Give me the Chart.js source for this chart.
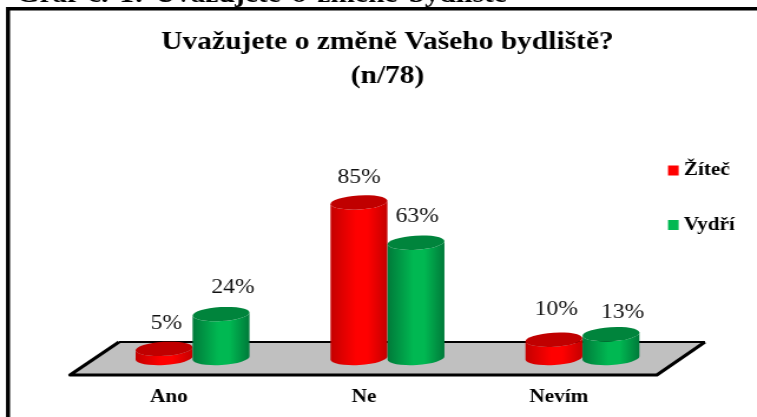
<!DOCTYPE html>
<html>
<head>
<meta charset="utf-8">
<style>
    html, body { margin: 0; padding: 0; background: #fff; overflow: hidden; }
    #wrap { position: relative; width: 757px; height: 417px; overflow: hidden; }
    /* the reference is a picture pulled wider than it was drawn */
    canvas { position: absolute; left: 0; top: 0; transform-origin: 0 0; transform: scaleX(1.179); }
</style>
</head>
<body>
<div id="wrap"><canvas id="chart" width="642" height="417"></canvas></div>
<script src="https://cdn.jsdelivr.net/npm/chart.js@4"></script>
<script>
// Data
const categories = ["Ano", "Ne", "Nevím"];
const seriesNames = ["Žíteč", "Vydří"];
const zitecValues = [5, 85, 10];
const vydriValues = [24, 63, 13];
const titleLines = ["Uvažujete o změně Vašeho bydliště?", "(n/78)"];
const captionText = "Graf č. 1: Uvažujete o změně bydliště";

// Colours: [edge, centre, top ellipse]
const redShades = ["#c40000", "#ff0000", "#c00000"];
const greenShades = ["#007a3a", "#00b852", "#00843c"];

// Small shifts of the value labels, same order as the values
const labelShift = [
    [[2, 0], [0, 0], [2, -5]],
    [[10, -1], [1, -1], [10, 4]]
];

const SERIF = '"Liberation Serif", "Times New Roman", serif';

// Frame, clipped caption and grey floor, all behind the bars
const backdropPlugin = {
    id: "backdrop",
    beforeDatasetsDraw(chart) {
        const ctx = chart.ctx;
        const area = chart.chartArea;
        const b = area.bottom;
        const backY = b - 16;
        const frontY = b + 17;

        ctx.save();
        ctx.fillStyle = "#000";
        ctx.font = "bold 25px " + SERIF;
        ctx.wordSpacing = "3px";
        ctx.textAlign = "left";
        ctx.textBaseline = "alphabetic";
        ctx.fillText(captionText, 14, 2);
        ctx.wordSpacing = "0px";

        ctx.strokeStyle = "#000";
        ctx.lineWidth = 3.4;
        ctx.beginPath();
        ctx.moveTo(6.8, 417);
        ctx.lineTo(6.8, 8.7);
        ctx.lineTo(642, 8.7);
        ctx.stroke();

        // floor
        ctx.beginPath();
        ctx.moveTo(area.left + 20.3, backY);
        ctx.lineTo(area.right + 21.2, backY);
        ctx.lineTo(area.right - 19.6, frontY);
        ctx.lineTo(area.left - 21.2, frontY);
        ctx.closePath();
        ctx.fillStyle = "#c0c0c0";
        ctx.fill();
        ctx.strokeStyle = "#000";
        ctx.lineWidth = 2;
        ctx.beginPath();
        ctx.moveTo(area.left + 20.3, backY);
        ctx.lineTo(area.right + 21.2, backY);
        ctx.stroke();
        ctx.lineWidth = 3;
        ctx.lineJoin = "round";
        ctx.beginPath();
        ctx.moveTo(area.left + 20.3, backY);
        ctx.lineTo(area.left - 21.2, frontY);
        ctx.lineTo(area.right - 19.6, frontY);
        ctx.lineTo(area.right + 21.2, backY);
        ctx.stroke();
        ctx.restore();
    }
};

function drawCylinder(ctx, bar, shades) {
    const rx = bar.width / 2;
    const ry = 7;
    const tilt = -0.07;
    const left = bar.x - rx;
    const right = bar.x + rx;

    const grad = ctx.createLinearGradient(left, 0, right, 0);
    grad.addColorStop(0, shades[0]);
    grad.addColorStop(0.45, shades[1]);
    grad.addColorStop(0.65, shades[1]);
    grad.addColorStop(1, shades[0]);

    ctx.beginPath();
    ctx.ellipse(bar.x, bar.base, rx, ry, tilt, 0, Math.PI);
    ctx.ellipse(bar.x, bar.y, rx, ry, tilt, Math.PI, 0, true);
    ctx.closePath();
    ctx.fillStyle = grad;
    ctx.fill();

    ctx.beginPath();
    ctx.ellipse(bar.x, bar.y, rx, ry, tilt, 0, Math.PI * 2);
    ctx.fillStyle = shades[2];
    ctx.fill();
}

// Bars come from the scales through the bar elements, only the look is redone
const cylinderPlugin = {
    id: "cylinders",
    afterDatasetsDraw(chart) {
        const ctx = chart.ctx;
        const shades = [redShades, greenShades];
        ctx.save();
        categories.forEach((name, i) => {
            chart.data.datasets.forEach((ds, d) => {
                drawCylinder(ctx, chart.getDatasetMeta(d).data[i], shades[d]);
            });
        });

        // value labels
        ctx.fillStyle = "#111";
        ctx.font = "20px " + SERIF;
        ctx.textAlign = "center";
        ctx.textBaseline = "middle";
        chart.data.datasets.forEach((ds, d) => {
            chart.getDatasetMeta(d).data.forEach((bar, i) => {
                const shift = labelShift[d][i];
                ctx.fillText(ds.data[i] + "%", bar.x + shift[0], bar.y - 25 + shift[1]);
            });
        });

        // legend
        ctx.font = "bold 18px " + SERIF;
        ctx.textAlign = "left";
        seriesNames.forEach((name, d) => {
            const y = 170.5 + d * 54.5;
            ctx.fillStyle = shades[d][1];
            ctx.fillRect(566.6, y - 5, 9, 10);
            ctx.fillStyle = "#000";
            ctx.fillText(name, 580, y);
        });
        ctx.restore();
    }
};

new Chart(document.getElementById("chart"), {
    type: "bar",
    data: {
        labels: categories,
        datasets: [
            { label: seriesNames[0], data: zitecValues, backgroundColor: "transparent" },
            { label: seriesNames[1], data: vydriValues, backgroundColor: "transparent" }
        ]
    },
    options: {
        responsive: false,
        animation: false,
        devicePixelRatio: 1,
        categoryPercentage: 0.585,
        barPercentage: 1,
        layout: { padding: { left: 80.6, right: 65.3, top: 0, bottom: 0 } },
        scales: {
            x: {
                grid: { display: false },
                border: { display: false },
                afterFit(scale) { scale.height = 59; },
                ticks: {
                    color: "#000",
                    font: { family: SERIF, size: 18, weight: "bold" },
                    labelOffset: -20,
                    padding: 21,
                    maxRotation: 0
                }
            },
            y: { display: false, min: 0, max: 100 }
        },
        plugins: {
            legend: { display: false },
            tooltip: { enabled: false },
            title: {
                display: true,
                text: titleLines,
                color: "#000",
                font: { family: SERIF, size: 25, weight: "bold", lineHeight: 1.36 },
                padding: { top: 26, bottom: 81 }
            }
        }
    },
    plugins: [backdropPlugin, cylinderPlugin]
});
</script>
</body>
</html>
